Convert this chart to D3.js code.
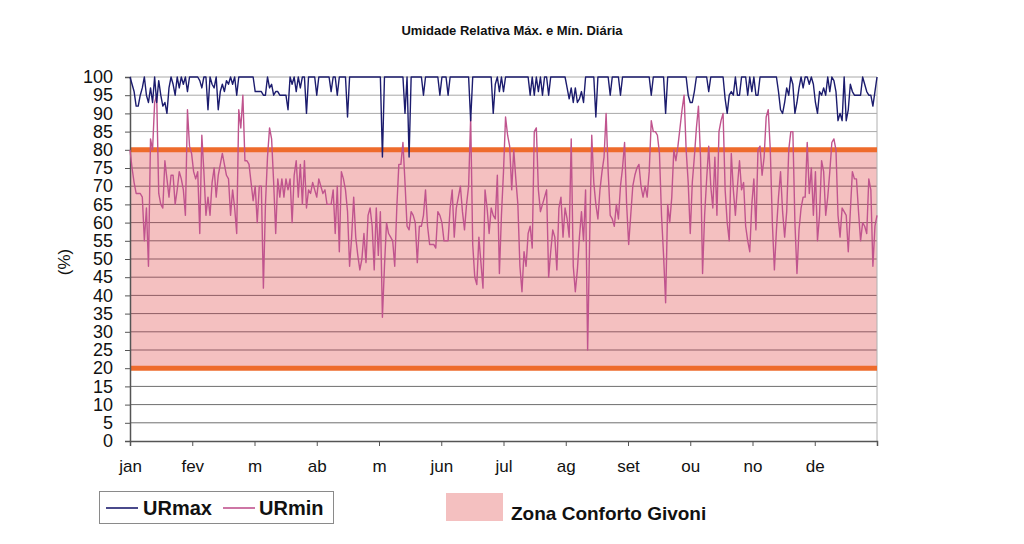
<!DOCTYPE html>
<html>
<head>
<meta charset="utf-8">
<script src="https://cdn.jsdelivr.net/npm/d3@7"></script>
<style>
  html, body { margin: 0; padding: 0; background: #fff; }
  svg { display: block; font-family: "Liberation Sans", Arial, sans-serif; }
</style>
</head>
<body>
<svg id="chart" width="1024" height="544"></svg>
<script>
// ---- DATA ----
const title = "Umidade Relativa Máx. e Mín. Diária";
const months = ["jan","fev","m","ab","m","jun","jul","ag","set","ou","no","de"];
const yTicks = d3.range(0, 101, 5);
const comfortZone = [20, 80];

const urMax = [
100,98,96,92,92,95,97,100,95,93,
97,93,100,93,99,95,92,93,90,97,
100,98,95,100,97,100,98,100,96,100,
100,100,100,100,99,97,100,100,91,100,
98,97,100,91,96,98,96,99,98,100,
98,100,95,100,100,100,100,100,100,100,
100,96,96,96,96,95,95,100,97,98,
95,96,96,95,95,95,95,91,100,98,
100,96,100,97,100,100,90,100,100,100,
100,95,100,100,100,100,100,100,96,100,
100,95,100,100,100,100,89,100,100,100,
100,100,100,100,100,100,100,100,100,100,
100,100,100,78,100,100,100,100,100,100,
100,100,100,100,90,100,78,100,100,100,
100,100,100,95,100,100,100,100,100,100,
100,95,100,100,100,95,100,100,100,100,
100,100,100,100,100,100,88,100,100,100,
100,100,100,100,100,100,100,90,98,100,
96,100,96,100,100,100,100,100,100,100,
100,100,100,100,100,95,100,95,100,96,
100,95,100,100,95,100,100,100,100,100,
100,100,100,97,94,97,93,97,93,94,
96,93,100,100,100,100,100,89,100,100,
100,100,100,100,95,100,100,100,100,95,
100,100,100,100,100,100,100,100,100,100,
100,100,100,100,95,100,100,100,100,100,
100,90,100,100,100,100,100,100,100,100,
100,100,95,93,93,96,100,100,100,100,
100,100,96,100,100,100,100,100,100,100,
94,90,95,96,95,100,95,95,100,100,
100,95,100,96,100,95,95,100,100,100,
100,100,100,100,100,100,96,91,90,93,
97,95,100,98,90,93,97,100,97,100,
100,98,100,98,93,90,96,95,97,95,
100,96,100,99,96,88,90,88,100,88,
91,98,96,95,95,95,95,100,98,96,
95,95,92,96,100
];

const urMin = [
80,75,71,68,68,68,67,55,64,48,
83,80,93,95,68,65,64,77,72,67,
73,73,65,69,74,72,69,62,91,81,
79,74,72,74,57,84,74,62,67,62,
71,75,67,73,76,79,76,73,72,62,
69,64,57,91,86,95,77,77,76,71,
66,70,60,70,70,42,65,78,86,83,
71,57,72,67,72,67,72,69,72,60,
73,77,67,76,65,77,64,69,68,71,
69,67,72,70,68,69,65,65,65,69,
57,70,52,74,72,69,63,48,56,67,
56,51,47,50,57,49,62,64,59,47,
64,51,63,34,48,60,57,56,55,48,
64,76,76,82,71,59,58,63,62,60,
49,59,59,62,69,59,54,54,54,53,
63,62,60,55,55,55,64,69,56,64,
67,70,63,58,65,70,89,54,45,43,
56,49,42,69,64,57,64,62,61,73,
46,62,74,89,84,81,69,80,72,65,
48,41,52,48,57,59,53,85,86,69,
63,65,67,69,45,52,58,56,47,64,
67,56,64,61,56,83,48,41,47,56,
63,55,69,25,56,84,71,65,61,69,
74,78,90,74,62,61,59,65,61,70,
75,82,65,54,62,70,73,75,76,70,
67,70,67,74,88,85,85,84,79,62,
51,38,65,60,67,80,77,81,86,91,
95,80,71,57,71,78,86,92,78,46,
62,72,81,70,64,78,62,85,88,90,
69,60,55,79,69,62,70,77,69,71,
59,55,52,65,72,58,80,81,73,78,
89,91,80,60,47,58,67,74,63,56,
63,80,85,85,60,46,58,64,67,67,
82,68,75,62,74,55,62,77,74,62,
67,74,82,83,80,62,56,64,63,62,
52,63,74,72,72,63,55,60,59,57,
72,69,48,59,62
];

const seriesNames = ["URmax", "URmin"];
const zoneName = "Zona Conforto Givoni";

// ---- CHART ----
const svg = d3.select("#chart");
const L = 130, R = 877, T = 77, B = 441;
const nDays = urMin.length;
const x = d3.scaleLinear().domain([0, nDays - 1]).range([L, R]);
const y = d3.scaleLinear().domain([0, 100]).range([B, T]);

svg.append("rect").attr("width", 1024).attr("height", 544).attr("fill", "#fff");

// title
svg.append("text").attr("x", 512).attr("y", 35).attr("text-anchor", "middle")
  .attr("font-size", 13).attr("font-weight", "bold").attr("fill", "#111").text(title);

// comfort zone band
svg.append("rect").attr("x", L).attr("width", R - L)
  .attr("y", y(comfortZone[1])).attr("height", y(comfortZone[0]) - y(comfortZone[1]))
  .attr("fill", "#f4c0c0");

// gridlines
svg.append("g").selectAll("line").data(yTicks.filter(d => d > 0)).join("line")
  .attr("x1", L).attr("x2", R).attr("y1", d => y(d)).attr("y2", d => y(d))
  .attr("stroke", d => d > comfortZone[1] ? "#a8a8a8" : (d > comfortZone[0] ? "#8e5d64" : "#6e6e6e"))
  .attr("stroke-width", 1);

// right border
svg.append("line").attr("x1", R).attr("x2", R).attr("y1", T).attr("y2", B)
  .attr("stroke", "#b0b0b0").attr("stroke-width", 1);

// comfort limits
svg.append("g").selectAll("line").data(comfortZone).join("line")
  .attr("x1", L).attr("x2", R).attr("y1", d => y(d)).attr("y2", d => y(d))
  .attr("stroke", "#ee6b2c").attr("stroke-width", 5);

// y axis
const yAxis = d3.axisLeft(y).tickValues(yTicks).tickSize(5).tickPadding(12);
const gy = svg.append("g").attr("transform", `translate(${L},0)`).call(yAxis);
gy.select(".domain").attr("stroke", "#555").attr("stroke-width", 1.5);
gy.selectAll(".tick line").attr("stroke", "#555");
gy.selectAll(".tick text").attr("font-size", 18).attr("fill", "#111")
  .attr("font-family", "Liberation Sans, Arial, sans-serif");

// x axis with month ticks
const monthPos = months.map((m, i) => i * (nDays - 1) / 12);
const xAxis = d3.axisBottom(x).tickValues(monthPos.concat([nDays - 1]))
  .tickFormat((d, i) => months[i] || "").tickSize(5).tickPadding(14);
const gx = svg.append("g").attr("transform", `translate(0,${B})`).call(xAxis);
gx.select(".domain").attr("stroke", "#555").attr("stroke-width", 1.5);
gx.selectAll(".tick line").attr("stroke", "#555");
gx.selectAll(".tick text").attr("font-size", 17).attr("fill", "#111")
  .attr("font-family", "Liberation Sans, Arial, sans-serif");

// y label
svg.append("text").attr("transform", "translate(70,262) rotate(-90)")
  .attr("text-anchor", "middle").attr("font-size", 17).attr("fill", "#111").text("(%)");

// series lines
const line = d3.line().x((d, i) => x(i)).y(d => y(d));
svg.append("path").datum(urMin).attr("d", line).attr("fill", "none")
  .attr("stroke", "#c0548e").attr("stroke-width", 1.4).attr("stroke-linejoin", "round");
svg.append("path").datum(urMax).attr("d", line).attr("fill", "none")
  .attr("stroke", "#1c1c6e").attr("stroke-width", 1.4).attr("stroke-linejoin", "round");

// legend 1
const lg = svg.append("g");
lg.append("rect").attr("x", 99.5).attr("y", 491.5).attr("width", 234).attr("height", 32)
  .attr("fill", "#fff").attr("stroke", "#8a8a8a").attr("stroke-width", 1);
const legendItems = [
  { name: seriesNames[0], color: "#1c1c6e", lx: 106, tx: 143 },
  { name: seriesNames[1], color: "#c0548e", lx: 223, tx: 259 }
];
legendItems.forEach(it => {
  lg.append("line").attr("x1", it.lx).attr("x2", it.lx + 32).attr("y1", 508).attr("y2", 508)
    .attr("stroke", it.color).attr("stroke-width", 1.6);
  lg.append("text").attr("x", it.tx).attr("y", 515).attr("font-size", 20)
    .attr("font-weight", "bold").attr("fill", "#111").text(it.name);
});

// legend 2
svg.append("rect").attr("x", 446).attr("y", 493).attr("width", 57).attr("height", 28).attr("fill", "#f4c0c0");
svg.append("text").attr("x", 511).attr("y", 520).attr("font-size", 19)
  .attr("font-weight", "bold").attr("fill", "#111").text(zoneName);
</script>
</body>
</html>
